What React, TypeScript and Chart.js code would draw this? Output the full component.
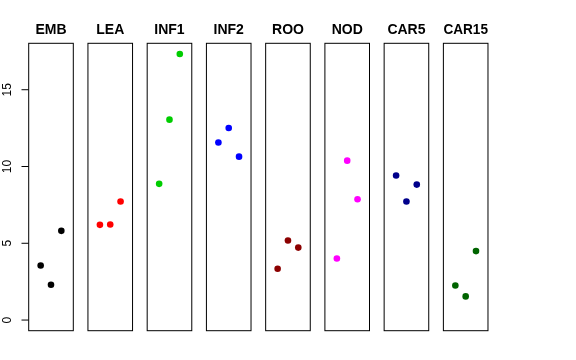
import React, { useEffect, useRef } from "react";
import { Chart, registerables } from "chart.js";

Chart.register(...registerables);

const categories = ["EMB", "LEA", "INF1", "INF2", "ROO", "NOD", "CAR5", "CAR15"];
const colors = ["#000000", "#FF0000", "#00CD00", "#0000FF", "#8B0000", "#FF00FF", "#00008B", "#006400"];

const EMB = [3.55, 2.3, 5.81];
const LEA = [6.2, 6.22, 7.72];
const INF1 = [8.87, 13.05, 17.33];
const INF2 = [11.56, 12.51, 10.64];
const ROO = [3.34, 5.18, 4.72];
const NOD = [4.01, 10.38, 7.87];
const CAR5 = [9.41, 7.72, 8.82];
const CAR15 = [2.25, 1.54, 4.49];

const seriesValues = [EMB, LEA, INF1, INF2, ROO, NOD, CAR5, CAR15];
const xPositions = [1, 2, 3];
const yTicks = [0, 5, 10, 15];

const W = 576;
const H = 360;
const PANEL_LEFT0 = 28.7;
const PANEL_STEP = 59.24;
const PANEL_W = 44.6;

const yMaxData = Math.max(...seriesValues.flat());
const yPad = yMaxData * 0.04;

const boxPlugin = {
  id: "panelBox",
  afterDatasetsDraw(chart: any) {
    const { ctx, chartArea } = chart;
    ctx.save();
    ctx.strokeStyle = "#000";
    ctx.lineWidth = 1;
    ctx.strokeRect(chartArea.left, chartArea.top, chartArea.right - chartArea.left, chartArea.bottom - chartArea.top);
    ctx.restore();
  },
};

const axisPlugin = {
  id: "leftAxis",
  afterDraw(chart: any) {
    const opts = chart.options.plugins.leftAxis;
    if (!opts || !opts.show) return;
    const { ctx, chartArea } = chart;
    const yScale = chart.scales.y;
    ctx.save();
    ctx.strokeStyle = "#000";
    ctx.fillStyle = "#000";
    ctx.lineWidth = 1;
    const x0 = chartArea.left;
    ctx.beginPath();
    for (const v of yTicks) {
      const py = yScale.getPixelForValue(v);
      ctx.moveTo(x0 - 7.2, py);
      ctx.lineTo(x0, py);
    }
    ctx.stroke();
    ctx.font = '12px "Liberation Sans", Arial, sans-serif';
    ctx.textAlign = "center";
    ctx.textBaseline = "alphabetic";
    for (const v of yTicks) {
      const py = yScale.getPixelForValue(v);
      ctx.save();
      ctx.translate(10.5, py);
      ctx.rotate(-Math.PI / 2);
      ctx.fillText(String(v), 0, 0);
      ctx.restore();
    }
    ctx.restore();
  },
};

function Panel({ index }: { index: number }) {
  const ref = useRef<HTMLCanvasElement | null>(null);
  useEffect(() => {
    if (!ref.current) return;
    const left = PANEL_LEFT0 + PANEL_STEP * index;
    const right = W - (left + PANEL_W);
    const chart = new Chart(ref.current, {
      type: "scatter",
      data: {
        datasets: [
          {
            label: categories[index],
            data: seriesValues[index].map((v, i) => ({ x: xPositions[i], y: v })),
            backgroundColor: colors[index],
            borderColor: colors[index],
            borderWidth: 0,
            pointRadius: 3.3,
            pointHoverRadius: 3.3,
          },
        ],
      },
      options: {
        animation: false,
        responsive: false,
        devicePixelRatio: 1,
        events: [],
        layout: { padding: { left, right, top: 0, bottom: 29.3 } },
        scales: {
          x: { type: "linear", min: -0.16, max: 4.16, display: false },
          y: { type: "linear", min: -yPad, max: yMaxData + yPad, display: false },
        },
        plugins: {
          legend: { display: false },
          tooltip: { enabled: false },
          title: {
            display: true,
            text: categories[index],
            color: "#000",
            font: { family: '"Liberation Sans", Arial, sans-serif', size: 14, weight: "bold", lineHeight: 1.2 },
            padding: { top: 21.3, bottom: 5.2 },
          },
          leftAxis: { show: index === 0 },
        } as any,
      },
      plugins: [boxPlugin, axisPlugin],
    });
    return () => chart.destroy();
  }, [index]);
  return (
    <canvas
      ref={ref}
      width={W}
      height={H}
      style={{ position: "absolute", left: 0, top: 0, width: W, height: H }}
    />
  );
}

export default function App() {
  return (
    <div style={{ position: "absolute", left: 0, top: 0, width: W, height: H, background: "#fff" }}>
      {categories.map((c, i) => (
        <Panel key={c} index={i} />
      ))}
    </div>
  );
}
